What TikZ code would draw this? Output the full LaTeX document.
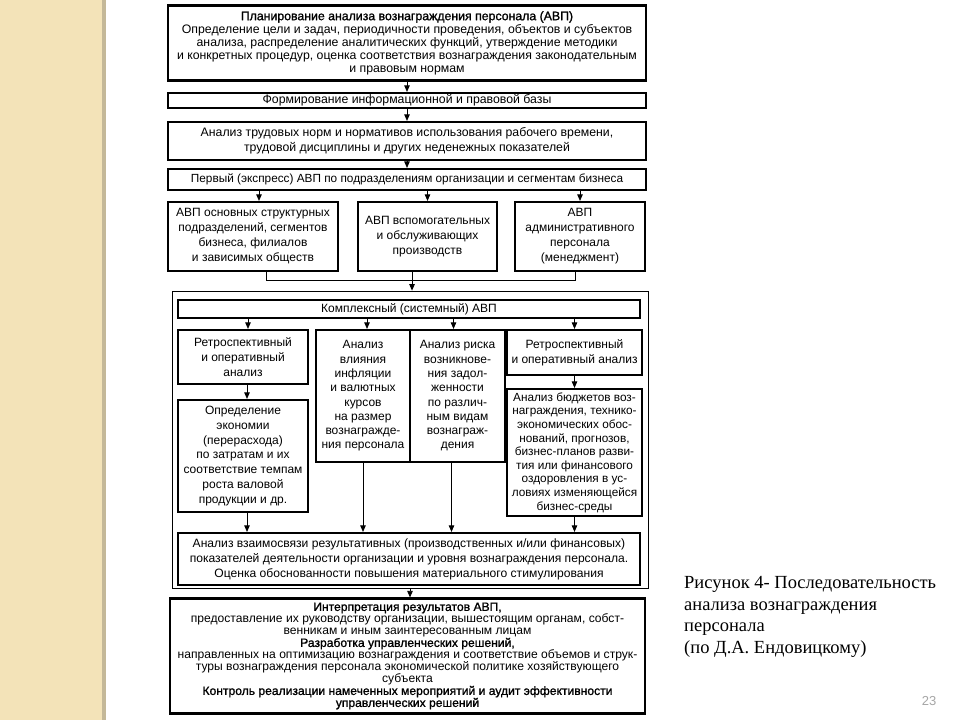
\documentclass[tikz,border=0pt]{standalone}
\usepackage{fontspec}
\setmainfont{Liberation Sans}
\newfontfamily\capfont{Liberation Serif}
\newfontfamily\semib[FakeBold=1.2]{Liberation Sans}
\usetikzlibrary{arrows.meta}
\definecolor{beige}{HTML}{F3E3B8}
\definecolor{beigeedge}{HTML}{C4B898}
\begin{document}
\begin{tikzpicture}[x=1pt,y=-1pt,
  box/.style={draw, line width=2.2pt, inner sep=0pt, align=center, font=\fontsize{12}{13}\selectfont},
  frame/.style={draw, line width=0.8pt, inner sep=0pt},
  conn/.style={line width=0.8pt, -{Triangle[length=6.5pt,width=5.5pt]}},
  plain/.style={line width=0.8pt},
]
\useasboundingbox (0,0) rectangle (960,720);
\fill[white] (0,0) rectangle (960,720);
\fill[beige] (0,0) rectangle (102,720);
\fill[beigeedge] (102,0) rectangle (106,720);

\node[box, minimum width=478, minimum height=75, font=\fontsize{12.3}{13}\selectfont] (b1) at (407,43)
 {{\semib Планирование анализа вознаграждения персонала (АВП)}\\
  Определение цели и задач, периодичности проведения, объектов и субъектов\\
  анализа, распределение аналитических функций, утверждение методики\\
  и конкретных процедур, оценка соответствия вознаграждения законодательным\\
  и правовым нормам};
\node[box, minimum width=478, minimum height=15, font=\fontsize{12.3}{13}\selectfont] (b2) at (407,100.5)
 {Формирование информационной и правовой базы};
\node[box, minimum width=478, minimum height=38, font=\fontsize{12.3}{15}\selectfont] (b3) at (407,141)
 {Анализ трудовых норм и нормативов использования рабочего времени,\\
  трудовой дисциплины и других неденежных показателей};
\node[box, minimum width=478, minimum height=21, font=\fontsize{11.8}{13}\selectfont] (b4) at (407,179.5)
 {Первый (экспресс) АВП по подразделениям организации и сегментам бизнеса};

\node[box, minimum width=170, minimum height=69, font=\fontsize{12}{15}\selectfont] (r1) at (253,236.5)
 {АВП основных структурных\\подразделений, сегментов\\бизнеса, филиалов\\и зависимых обществ};
\node[box, minimum width=139, minimum height=69, font=\fontsize{12}{15}\selectfont] (r2) at (427.5,236.5)
 {АВП вспомогательных\\и обслуживающих\\производств};
\node[box, minimum width=130, minimum height=69, font=\fontsize{12}{15}\selectfont] (r3) at (580,236.5)
 {АВП\\административного\\персонала\\(менеджмент)};

\node[frame, minimum width=476, minimum height=297] (outer) at (410,439.5) {};
\node[box, minimum width=462, minimum height=18] (k) at (409,309)
 {Комплексный (системный) АВП};

\node[box, minimum width=130, minimum height=54, font=\fontsize{12}{15}\selectfont] (a1) at (243,357)
 {Ретроспективный\\и оперативный\\анализ};
\node[box, minimum width=130, minimum height=112, font=\fontsize{12}{14.7}\selectfont] (a2) at (243,456)
 {Определение\\экономии\\(перерасхода)\\по затратам и их\\соответствие темпам\\роста валовой\\продукции и др.};
\node[box, minimum width=94, minimum height=132, font=\fontsize{12}{14.3}\selectfont] (mL) at (363,396)
 {Анализ\\влияния\\инфляции\\и валютных\\курсов\\на размер\\вознагражде-\\ния персонала};
\node[box, minimum width=95, minimum height=132, font=\fontsize{12}{14.3}\selectfont] (mR) at (457.5,396)
 {Анализ риска\\возникнове-\\ния задол-\\женности\\по различ-\\ным видам\\вознаграж-\\дения};
\node[box, minimum width=135, minimum height=45, font=\fontsize{12}{15}\selectfont] (c1) at (574.5,352.5)
 {Ретроспективный\\и оперативный анализ};
\node[box, minimum width=135, minimum height=127, font=\fontsize{11.8}{13.6}\selectfont] (c2) at (574.5,452.5)
 {Анализ бюджетов воз-\\награждения, технико-\\экономических обос-\\нований, прогнозов,\\бизнес-планов разви-\\тия или финансового\\оздоровления в ус-\\ловиях изменяющейся\\бизнес-среды};
\node[box, minimum width=462, minimum height=52, font=\fontsize{12.1}{15}\selectfont] (e) at (409,559)
 {Анализ взаимосвязи результативных (производственных и/или финансовых)\\
  показателей деятельности организации и уровня вознаграждения персонала.\\
  Оценка обоснованности повышения материального стимулирования};

\node[box, minimum width=475, minimum height=115, font=\fontsize{12.1}{12}\selectfont] (f) at (407.5,656)
 {{\semib Интерпретация результатов АВП,}\\
  предоставление их руководству организации, вышестоящим органам, собст-\\
  венникам и иным заинтересованным лицам\\
  {\semib Разработка управленческих решений,}\\
  направленных на оптимизацию вознаграждения и соответствие объемов и струк-\\
  туры вознаграждения персонала экономической политике хозяйствующего\\
  субъекта\\
  {\semib Контроль реализации намеченных мероприятий и аудит эффективности}\\
  {\semib управленческих решений}};

% connectors
\draw[conn] (b1) -- (b2);
\draw[conn] (b2) -- (b3);
\draw[conn] (b3) -- (b4);
\draw[conn] ([xshift=6pt]r1.north |- b4.south) -- ([xshift=6pt]r1.north);
\draw[conn] (r2.north |- b4.south) -- (r2.north);
\draw[conn] (r3.north |- b4.south) -- (r3.north);
\coordinate (jL) at (266,280);
\coordinate (jM) at (412,280);
\coordinate (jR) at (575,280);
\draw[plain] (jL |- r1.south) -- (jL) -- (jR) -- (jR |- r3.south);
\draw[plain] (jM |- r2.south) -- (jM);
\draw[conn] (jM) -- (jM |- outer.north);

\draw[conn] ([xshift=5pt]a1.north |- k.south) -- ([xshift=5pt]a1.north);
\draw[conn] ([xshift=4pt]mL.north |- k.south) -- ([xshift=4pt]mL.north);
\draw[conn] ([xshift=-4pt]mR.north |- k.south) -- ([xshift=-4pt]mR.north);
\draw[conn] (c1.north |- k.south) -- (c1.north);

\draw[conn] ([xshift=4pt]a1.south) -- ([xshift=4pt]a2.north);
\draw[conn] (c1.south) -- (c2.north);
\draw[conn] ([xshift=4pt]a2.south) -- ([xshift=4pt]a2.south |- e.north);
\draw[conn] (mL.south) -- (mL.south |- e.north);
\draw[conn] ([xshift=-6pt]mR.south) -- ([xshift=-6pt]mR.south |- e.north);
\draw[conn] (c2.south) -- (c2.south |- e.north);
\draw[conn] (outer.south) -- (outer.south |- f.north);

% caption
\node[anchor=north west, inner sep=0pt, align=left, font=\capfont\fontsize{18.5}{21.7}\selectfont] (cap) at (684,576)
 {Рисунок 4- Последовательность\\анализа вознаграждения\\персонала\\(по Д.А. Ендовицкому)};
\node[inner sep=0pt, text=black!35, font=\fontsize{13}{13}\selectfont] (pg) at (929,701) {23};
\end{tikzpicture}
\end{document}
